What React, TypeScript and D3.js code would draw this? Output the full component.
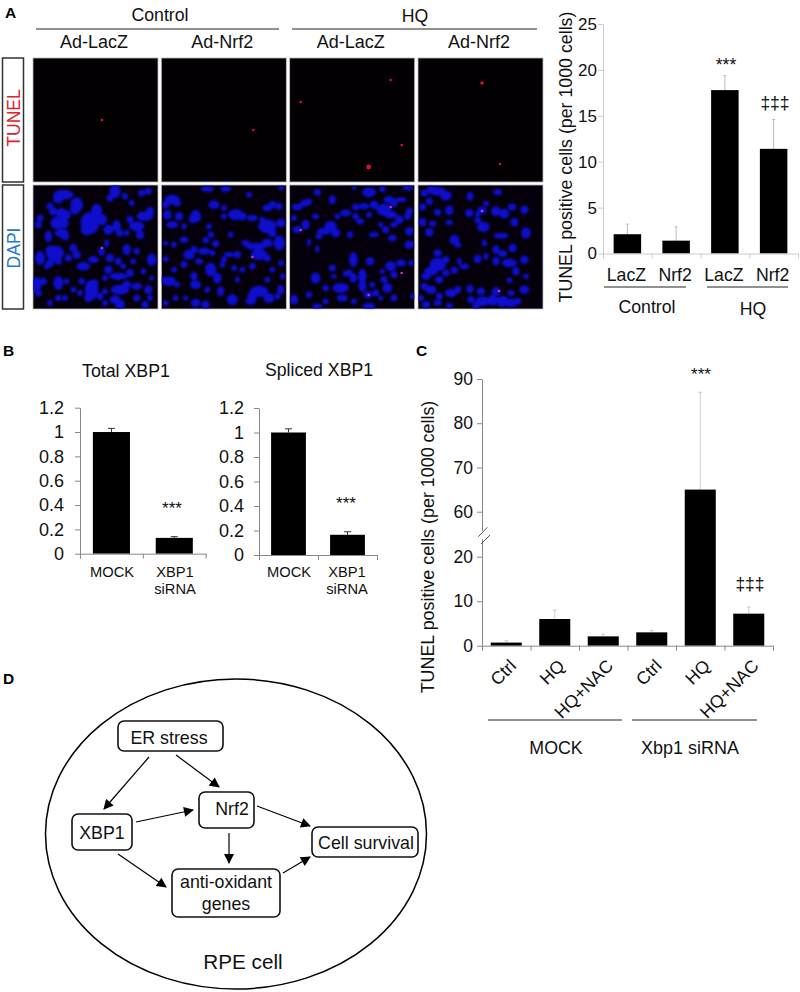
import React, { useEffect, useRef } from "react";
import * as d3 from "d3";

const FONT = "'Liberation Sans', Arial, sans-serif";

// panel A bars
const tunelCats = ["LacZ", "Nrf2", "LacZ", "Nrf2"];
const tunelVals = [2.1, 1.4, 17.8, 11.4];
const tunelTops = [3.2, 2.9, 19.4, 14.6];
const tunelTicks = [0, 5, 10, 15, 20, 25];

// panel B bars
const xbpCats = ["MOCK", "XBP1"];
const totalVals = [1, 0.13];
const totalTops = [1.03, 0.14];
const splicedVals = [1, 0.165];
const splicedTops = [1.03, 0.19];
const xbpTicks = [0, 0.2, 0.4, 0.6, 0.8, 1, 1.2];

// panel C bars
const nacCats = ["Ctrl", "HQ", "HQ+NAC", "Ctrl", "HQ", "HQ+NAC"];
const nacVals = [0.7, 6, 2.1, 3, 65, 7.2];
const nacTops = [1.1, 8, 2.6, 3.4, 87, 8.7];
const nacTicks = [0, 10, 20, 60, 70, 80, 90];

// microscopy panels: spots, nuclei as [x, y, rx, ry]
const panelNames = ["Ad-LacZ", "Ad-Nrf2", "Ad-LacZ", "Ad-Nrf2"];
const redSpots = [
  [[69, 62, 1.3]],
  [[92, 72, 1.3]],
  [[11, 44, 1.3], [101, 22, 1.3], [112, 87, 1.3], [79, 109, 2.4]],
  [[64, 25, 1.7], [82, 106, 1.3]],
];
const pinkSpots = [
  [[69, 63]],
  [[91, 72]],
  [[11, 45], [101, 22], [112, 88], [79, 110]],
  [[64, 26], [81, 106]],
];
const cropStart = [9, 27, 47, 66];
const nuclei1 = [
  [100, 35, 28, 12], [85, 48, 14, 10], [60, 70, 8, 8], [70, 85, 10, 10], [140, 65, 16, 20], [135, 80, 12, 12], [95, 92, 14, 14], [110, 95, 10, 10],
  [80, 120, 16, 16], [100, 120, 14, 14], [30, 105, 8, 8], [25, 125, 8, 8], [55, 160, 9, 14], [95, 150, 18, 10], [105, 160, 10, 10],
  [180, 120, 26, 30], [200, 85, 14, 20], [215, 110, 14, 14], [170, 140, 15, 15], [235, 140, 12, 12], [260, 130, 10, 16], [270, 150, 8, 8],
  [255, 25, 14, 18], [240, 45, 8, 8], [285, 40, 7, 7], [305, 60, 6, 6], [335, 30, 8, 8], [355, 25, 8, 8], [300, 110, 8, 8], [345, 100, 22, 12],
  [320, 130, 20, 12], [360, 85, 10, 10], [330, 155, 10, 10], [290, 150, 6, 6], [75, 210, 25, 20], [60, 200, 10, 10], [60, 240, 10, 10], [85, 235, 8, 8],
  [30, 225, 12, 18], [50, 250, 6, 6], [130, 195, 9, 9], [140, 215, 10, 10], [115, 225, 8, 8], [160, 250, 18, 10], [190, 230, 14, 8], [215, 205, 7, 12],
  [230, 180, 5, 8], [240, 225, 10, 10], [265, 235, 8, 8], [235, 260, 10, 10], [280, 250, 6, 6], [290, 200, 10, 14], [320, 205, 7, 7], [365, 230, 12, 16],
  [310, 235, 6, 6], [265, 280, 25, 8], [300, 270, 9, 9], [340, 265, 6, 6], [225, 285, 6, 6], [365, 285, 5, 5], [20, 305, 12, 20], [40, 295, 8, 8],
  [25, 330, 8, 8], [85, 300, 12, 18], [110, 295, 6, 6], [85, 345, 7, 7], [105, 345, 6, 6], [60, 360, 6, 6], [130, 320, 6, 6], [155, 295, 7, 7],
  [150, 330, 6, 6], [185, 320, 18, 28], [175, 345, 10, 10], [210, 340, 8, 8], [195, 300, 8, 8], [225, 325, 6, 6], [225, 360, 6, 6], [270, 320, 25, 12],
  [290, 305, 10, 10], [255, 350, 14, 10], [270, 365, 12, 12], [320, 310, 14, 8], [320, 345, 8, 8], [355, 320, 10, 10], [345, 365, 8, 8], [360, 345, 6, 6],
];
const nuclei2 = [
  [165, 18, 18, 6], [220, 18, 14, 6], [290, 35, 6, 6], [60, 50, 20, 12], [40, 65, 8, 8], [75, 60, 8, 8], [45, 95, 10, 12], [80, 100, 10, 10],
  [130, 100, 14, 16], [120, 110, 8, 8], [60, 125, 16, 8], [95, 130, 6, 6], [185, 65, 14, 10], [215, 75, 6, 6], [250, 95, 20, 14], [270, 100, 10, 10],
  [300, 105, 14, 7], [215, 100, 6, 6], [345, 75, 12, 8], [360, 65, 8, 8], [345, 130, 25, 18], [360, 150, 10, 10], [330, 110, 6, 6], [345, 180, 14, 10],
  [310, 190, 30, 8], [280, 180, 10, 6], [320, 215, 22, 14], [345, 225, 8, 8], [170, 130, 6, 6], [175, 155, 7, 7], [235, 155, 6, 6], [95, 170, 10, 7],
  [160, 172, 7, 7], [190, 182, 8, 8], [65, 185, 6, 6], [40, 180, 5, 5], [110, 215, 14, 12], [125, 200, 8, 8], [155, 205, 16, 8], [180, 210, 6, 6],
  [230, 215, 14, 5], [215, 230, 6, 6], [255, 215, 8, 8], [140, 235, 10, 6], [95, 245, 8, 8], [40, 228, 6, 6], [65, 260, 6, 6], [270, 260, 6, 6],
  [245, 255, 6, 6], [300, 250, 7, 7], [175, 260, 14, 18], [195, 285, 10, 14], [210, 245, 6, 6], [125, 280, 8, 10], [130, 305, 14, 10], [50, 295, 18, 12],
  [35, 290, 6, 6], [75, 305, 6, 6], [165, 320, 6, 6], [205, 325, 8, 12], [240, 350, 14, 14], [320, 325, 25, 14], [300, 340, 12, 12], [350, 345, 14, 12],
  [295, 355, 14, 8], [130, 360, 12, 10], [160, 365, 10, 10], [40, 360, 6, 6], [70, 345, 6, 6], [100, 345, 5, 5], [255, 290, 5, 5], [345, 290, 6, 6],
  [360, 260, 6, 6], [386, 120, 12, 10], [381, 180, 14, 20], [386, 240, 6, 6], [391, 280, 6, 6], [376, 340, 6, 6], [386, 15, 5, 5], [385, 320, 8, 12], [380, 70, 8, 8],
];
const nuclei3 = [
  [130, 28, 8, 8], [95, 60, 14, 8], [70, 72, 14, 8], [105, 55, 6, 6], [175, 50, 8, 10], [125, 100, 8, 6], [60, 105, 6, 6], [190, 100, 6, 6],
  [215, 90, 14, 8], [245, 72, 8, 8], [245, 100, 7, 7], [270, 70, 14, 7], [300, 65, 10, 10], [285, 28, 18, 12], [325, 18, 7, 7], [240, 15, 4, 4],
  [345, 50, 14, 8], [330, 80, 20, 16], [350, 95, 18, 8], [360, 60, 8, 10], [285, 95, 6, 6], [258, 115, 10, 6], [360, 125, 8, 6], [320, 125, 5, 5],
  [335, 140, 8, 8], [355, 165, 10, 7], [300, 155, 12, 5], [95, 125, 10, 12], [70, 140, 12, 8], [170, 130, 16, 14], [150, 145, 18, 8], [185, 150, 12, 10],
  [135, 160, 8, 6], [105, 178, 4, 8], [130, 198, 4, 7], [228, 155, 6, 8], [238, 230, 10, 20], [225, 270, 8, 8], [175, 255, 8, 8], [215, 272, 6, 6],
  [180, 280, 5, 5], [288, 235, 10, 10], [238, 285, 8, 12], [125, 285, 12, 14], [265, 280, 10, 20], [265, 310, 10, 14], [350, 250, 14, 12], [325, 265, 5, 5],
  [330, 290, 8, 8], [360, 275, 8, 8], [295, 305, 6, 6], [340, 315, 12, 12], [305, 330, 8, 8], [200, 315, 22, 12], [155, 315, 7, 7], [105, 335, 7, 7],
  [155, 355, 6, 6], [205, 345, 14, 8], [60, 350, 10, 12], [130, 370, 12, 6], [282, 335, 10, 8], [285, 370, 16, 8], [320, 345, 5, 5], [360, 345, 8, 8],
  [240, 355, 6, 6], [401, 15, 14, 5], [406, 85, 8, 8], [406, 145, 10, 10], [406, 185, 12, 10], [381, 240, 12, 8], [411, 240, 6, 6], [381, 50, 14, 5],
  [376, 110, 10, 10], [416, 340, 5, 5], [401, 100, 8, 8],
];
const nuclei4 = [
  [125, 25, 22, 10], [105, 20, 10, 10], [150, 38, 14, 12], [85, 30, 8, 8], [100, 55, 8, 8], [80, 72, 8, 8], [125, 88, 8, 8], [160, 82, 10, 12],
  [222, 40, 8, 10], [305, 28, 10, 7], [220, 90, 10, 9], [245, 95, 5, 5], [258, 82, 12, 8], [270, 62, 6, 6], [300, 85, 12, 12], [325, 92, 12, 12],
  [348, 72, 10, 8], [355, 118, 9, 10], [245, 112, 8, 6], [262, 132, 16, 12], [80, 118, 8, 10], [110, 122, 8, 6], [160, 118, 8, 6], [100, 148, 10, 10],
  [175, 170, 12, 12], [185, 185, 8, 6], [265, 180, 5, 8], [315, 158, 20, 6], [350, 195, 10, 10], [300, 200, 8, 10], [320, 212, 10, 8], [245, 228, 9, 10],
  [270, 220, 5, 8], [300, 235, 8, 10], [340, 240, 20, 10], [360, 265, 8, 10], [340, 292, 6, 6], [125, 210, 10, 8], [125, 245, 22, 18], [150, 230, 8, 8],
  [105, 265, 18, 10], [90, 280, 12, 8], [130, 290, 10, 8], [150, 270, 8, 8], [175, 262, 8, 8], [205, 250, 12, 6], [190, 235, 4, 8], [85, 310, 8, 8],
  [105, 320, 14, 10], [130, 340, 8, 8], [165, 330, 16, 10], [185, 320, 8, 8], [222, 318, 8, 10], [255, 325, 10, 8], [300, 325, 10, 10], [345, 330, 8, 6],
  [75, 345, 6, 6], [90, 365, 10, 8], [125, 360, 10, 6], [160, 368, 8, 5], [225, 350, 8, 8], [260, 355, 20, 12], [290, 352, 14, 14], [320, 355, 18, 14],
  [345, 360, 16, 10], [365, 355, 8, 8], [240, 368, 8, 8], [385, 80, 10, 10], [390, 150, 12, 14], [385, 230, 10, 10], [385, 320, 12, 10], [390, 280, 6, 6],
];
const nucleiAll = [nuclei1, nuclei2, nuclei3, nuclei4];

// panel D diagram
const diagramBoxes = [
  { x: 118, y: 721, w: 105, h: 30, lines: [{ t: "ER stress", cx: 169, by: 744 }] },
  { x: 72, y: 814, w: 60, h: 36, lines: [{ t: "XBP1", cx: 102, by: 839 }] },
  { x: 199, y: 792, w: 55, h: 36, lines: [{ t: "Nrf2", cx: 232, by: 815 }] },
  { x: 312, y: 827, w: 106, h: 30, lines: [{ t: "Cell survival", cx: 366, by: 849 }] },
  { x: 172, y: 869, w: 108, h: 48, lines: [{ t: "anti-oxidant", cx: 226, by: 888 }, { t: "genes", cx: 226, by: 910 }] },
];
const diagramArrows = [
  [[149, 757], [104, 809]],
  [[176, 755], [219, 787]],
  [[136, 822], [193, 810]],
  [[257, 806], [310, 826]],
  [[229, 833], [229, 863]],
  [[118, 854], [166, 887]],
  [[283, 873], [310, 857]],
];

function AxisG({ axis, color, size }: { axis: any; color: string; size: number }) {
  const ref = useRef<SVGGElement>(null);
  useEffect(() => {
    const g = d3.select(ref.current);
    g.call(axis);
    g.selectAll("path,line").attr("stroke", color);
    g.selectAll("text").attr("fill", "#111").attr("font-size", size).attr("font-family", FONT);
  }, []);
  return <g ref={ref} fill="none" />;
}

function Bars({ cats, vals, tops, y, x0, x1, y0, ticks, axisColor, errColor, fmt, size, pad, capW, labelPad }: any) {
  const x = d3.scaleBand().domain(cats.map((_: string, i: number) => String(i))).range([x0, x1]).paddingInner(pad).paddingOuter(pad / 2);
  const edges = d3.scaleLinear().domain([0, cats.length]).range([x0, x1]);
  const axisY = d3.axisLeft(y).tickValues(ticks).tickSize(5).tickPadding(labelPad).tickSizeOuter(0).tickFormat(fmt);
  const axisX = d3.axisBottom(edges).tickValues(d3.range(cats.length + 1)).tickSize(5).tickSizeOuter(0).tickFormat(() => "");
  return (
    <g>
      {cats.map((_: string, i: number) => {
        const cx = x(String(i))! + x.bandwidth() / 2;
        return (
          <g key={i}>
            <line x1={cx} x2={cx} y1={y(tops[i])} y2={y(vals[i])} stroke={errColor} />
            <line x1={cx - capW} x2={cx + capW} y1={y(tops[i])} y2={y(tops[i])} stroke={errColor} />
            <rect x={x(String(i))} y={y(vals[i])} width={x.bandwidth()} height={y(0) - y(vals[i])} fill="#000" />
          </g>
        );
      })}
      <g transform={`translate(${x0},0)`}>
        <AxisG axis={axisY} color={axisColor} size={size} />
      </g>
      <g transform={`translate(0,${y0})`}>
        <AxisG axis={axisX} color={axisColor} size={size} />
      </g>
    </g>
  );
}

const T = ({ x, y, s = 17.7, a = "middle", fill = "#111", w, children, rot }: any) => (
  <text
    x={x}
    y={y}
    fontSize={s}
    textAnchor={a}
    fill={fill}
    fontWeight={w}
    fontFamily={FONT}
    transform={rot !== undefined ? `rotate(${rot} ${x} ${y})` : undefined}
  >
    {children}
  </text>
);

export default function App() {
  const panelX = d3.scalePoint().domain(["0", "1", "2", "3"]).range([33, 418]);
  const panelW = 125;
  const panelH = 124;
  const rows = [58, 185];

  const yA = d3.scaleLinear().domain([0, 25]).range([253.5, 24]);
  const yB1 = d3.scaleLinear().domain([0, 1.2]).range([553.7, 407.7]);
  const yB2 = d3.scaleLinear().domain([0, 1.2]).range([555, 408]);
  // the broken axis of panel C: 20 to 60 takes the room of ten units
  const yC = d3.scaleLinear().domain([0, 20, 60, 90]).range([645.7, 556.7, 511.7, 379]);
  const xC = d3.scaleBand().domain(d3.range(6).map(String)).range([482, 773]);
  const xA = d3.scaleBand().domain(d3.range(4).map(String)).range([603, 798]);
  const arrow = d3.line();

  return (
    <svg width={800} height={992} style={{ position: "absolute", left: 0, top: 0, background: "#fff" }}>
      <defs>
        <filter id="soft" x="-5%" y="-5%" width="110%" height="110%" colorInterpolationFilters="sRGB">
          <feGaussianBlur stdDeviation="0.9" />
        </filter>
        <marker id="head" viewBox="0 0 10 10" refX="9" refY="5" markerWidth="11" markerHeight="10" markerUnits="userSpaceOnUse" orient="auto">
          <path d="M0,0L10,5L0,10z" fill="#000" />
        </marker>
        {panelNames.map((_, i) => (
          <clipPath key={i} id={`clip${i}`}>
            <rect x={panelX(String(i))} y={rows[1]} width={panelW} height={panelH} />
          </clipPath>
        ))}
      </defs>

      {/* panel A images */}
      <T x={5} y={18} s={15.5} a="start" w="bold" fill="#000">A</T>
      <T x={160} y={21}>Control</T>
      <T x={415} y={22}>HQ</T>
      <line x1={36} x2={279} y1={29} y2={29} stroke="#222" />
      <line x1={292} x2={537} y1={29} y2={29} stroke="#222" />
      {panelNames.map((name, i) => {
        const px = panelX(String(i))!;
        const sx = d3.scaleLinear().domain([cropStart[i], cropStart[i] + 375]).range([px, px + panelW]);
        const sy = d3.scaleLinear().domain([6, 378]).range([rows[1], rows[1] + panelH]);
        return (
          <g key={i}>
            <T x={px + 61} y={48} s={18}>{name}</T>
            <rect x={px} y={rows[0]} width={panelW} height={panelH} fill="#020003" stroke="#bbb" strokeWidth={0.8} />
            {redSpots[i].map((d, j) => (
              <circle key={j} cx={px + d[0]} cy={rows[0] + d[1]} r={d[2]} fill="#e0102c" />
            ))}
            <rect x={px} y={rows[1]} width={panelW} height={panelH} fill="#05000c" stroke="#bbb" strokeWidth={0.8} />
            <g clipPath={`url(#clip${i})`}>
              <g filter="url(#soft)">
                {nucleiAll[i].map((d, j) => (
                  <ellipse key={j} cx={sx(d[0])} cy={sy(d[1])} rx={d[2] / 3 + 0.9} ry={d[3] / 3 + 0.9} fill="#0e0ecc" />
                ))}
              </g>
              {pinkSpots[i].map((d, j) => (
                <circle key={j} cx={px + d[0]} cy={rows[1] + d[1]} r={1.3} fill="#c838b8" />
              ))}
            </g>
          </g>
        );
      })}
      <rect x={2.5} y={58} width={21} height={124} fill="#fff" stroke="#333" strokeWidth={1.5} />
      <rect x={2.5} y={185} width={21} height={124} fill="#fff" stroke="#333" strokeWidth={1.5} />
      <T x={20} y={118} s={17.5} fill="#e0202a" rot={-90}>TUNEL</T>
      <T x={20} y={248} s={17.5} fill="#1f78c8" rot={-90}>DAPI</T>

      {/* panel A bars */}
      <Bars cats={tunelCats} vals={tunelVals} tops={tunelTops} y={yA} x0={603} x1={798} y0={253.5} ticks={tunelTicks} axisColor="#ccc" errColor="#bbb" fmt={d3.format("d")} size={17} pad={0.436} capW={1.5} labelPad={1} />
      <T x={572} y={157} s={17.8} rot={-90}>TUNEL positive cells (per 1000 cells)</T>
      {tunelCats.map((c, i) => (
        <T key={i} x={xA(String(i))! + xA.bandwidth() / 2 - 1} y={281}>{c}</T>
      ))}
      <line x1={604} x2={686} y1={287} y2={287} stroke="#222" />
      <line x1={707} x2={788} y1={287} y2={287} stroke="#222" />
      <T x={647} y={313}>Control</T>
      <T x={753} y={315}>HQ</T>
      <T x={726} y={71}>***</T>
      <T x={775} y={109} s={17.5}>‡‡‡</T>

      {/* panel B */}
      <T x={3} y={356} s={15.5} a="start" w="bold" fill="#000">B</T>
      <T x={126} y={377} s={17.8}>Total XBP1</T>
      <T x={319} y={376} s={17.7}>Spliced XBP1</T>
      <Bars cats={xbpCats} vals={totalVals} tops={totalTops} y={yB1} x0={80} x1={205.7} y0={553.7} ticks={xbpTicks} axisColor="#888" errColor="#333" fmt={(d: number) => String(d)} size={18} pad={0.41} capW={3.5} labelPad={11} />
      <Bars cats={xbpCats} vals={splicedVals} tops={splicedTops} y={yB2} x0={259} x1={377} y0={555} ticks={xbpTicks} axisColor="#888" errColor="#333" fmt={(d: number) => String(d)} size={18} pad={0.41} capW={3.5} labelPad={10} />
      <T x={112} y={577} s={14.7}>MOCK</T>
      <T x={175} y={577} s={14.7}>XBP1</T>
      <T x={175} y={594} s={14.7}>siRNA</T>
      <T x={289} y={577} s={14.7}>MOCK</T>
      <T x={347} y={577} s={14.7}>XBP1</T>
      <T x={347} y={594} s={14.7}>siRNA</T>
      <T x={172} y={514} s={17}>***</T>
      <T x={346} y={509} s={17}>***</T>

      {/* panel C */}
      <T x={416} y={356} s={15.5} a="start" w="bold" fill="#000">C</T>
      <Bars cats={nacCats} vals={nacVals} tops={nacTops} y={yC} x0={482} x1={773} y0={645.7} ticks={nacTicks} axisColor="#888" errColor="#ccc" fmt={d3.format("d")} size={17.5} pad={0.36} capW={2} labelPad={4} />
      <rect x={478} y={531} width={9} height={8} fill="#fff" />
      <line x1={478.3} x2={487.3} y1={536.7} y2={527.3} stroke="#555" />
      <line x1={481} x2={490} y1={544} y2={535} stroke="#555" />
      <T x={434} y={547} s={17.9} rot={-90}>TUNEL positive cells (per 1000 cells)</T>
      {nacCats.map((c, i) => (
        <T key={i} x={xC(String(i))! + xC.bandwidth() / 2 + 11} y={667} a="end" rot={-45}>{c}</T>
      ))}
      <line x1={488} x2={622} y1={720} y2={720} stroke="#222" />
      <line x1={632} x2={757} y1={720} y2={720} stroke="#222" />
      <T x={556} y={754} s={17.8}>MOCK</T>
      <T x={690} y={754} s={18}>Xbp1 siRNA</T>
      <T x={701} y={380} s={17}>***</T>
      <T x={750} y={590} s={17.5}>‡‡‡</T>

      {/* panel D */}
      <T x={3} y={684} s={15.5} a="start" w="bold" fill="#000">D</T>
      <ellipse cx={236} cy={834} rx={190.5} ry={155} fill="none" stroke="#000" strokeWidth={1.5} />
      {diagramBoxes.map((b, i) => (
        <g key={i}>
          <rect x={b.x} y={b.y} width={b.w} height={b.h} rx={6} fill="#fff" stroke="#111" strokeWidth={1.6} />
          {b.lines.map((l, j) => (
            <T key={j} x={l.cx} y={l.by} s={17.8}>{l.t}</T>
          ))}
        </g>
      ))}
      {diagramArrows.map((a, i) => (
        <path key={i} d={arrow(a as any) as string} fill="none" stroke="#000" strokeWidth={1.2} markerEnd="url(#head)" />
      ))}
      <T x={243} y={969} s={20.7}>RPE cell</T>
    </svg>
  );
}
